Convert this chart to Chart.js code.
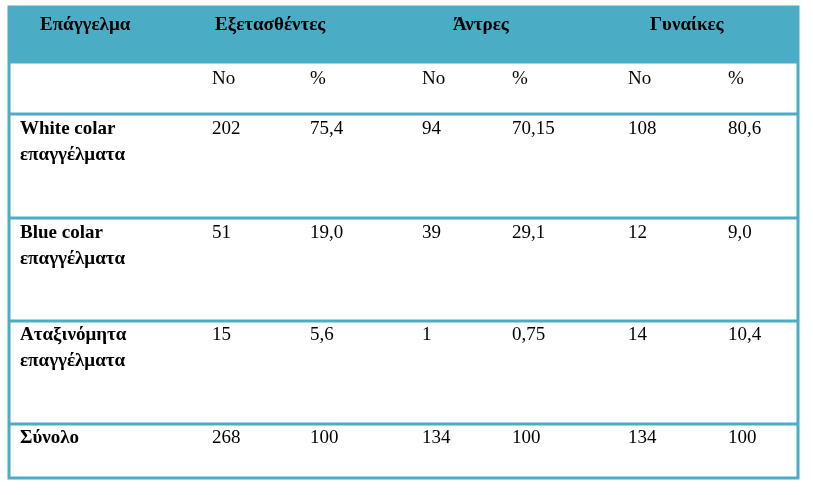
<!DOCTYPE html>
<html><head><meta charset="utf-8">
<script src="https://cdn.jsdelivr.net/npm/chart.js@4"></script>
<style>html,body{margin:0;padding:0;background:#fff}#w{width:813px;height:495px}</style>
</head><body><div id="w"><canvas id="c"></canvas></div>
<script>
const groups = ["Εξετασθέντες", "Άντρες", "Γυναίκες"];
const firstHeader = "Επάγγελμα";
const subHeaders = ["No", "%", "No", "%", "No", "%"];
const categories = [["White colar", "επαγγέλματα"], ["Blue colar", "επαγγέλματα"], ["Αταξινόμητα", "επαγγέλματα"], ["Σύνολο"]];
const rowValues = [
  ["202", "75,4", "94", "70,15", "108", "80,6"],
  ["51", "19,0", "39", "29,1", "12", "9,0"],
  ["15", "5,6", "1", "0,75", "14", "10,4"],
  ["268", "100", "134", "100", "134", "100"]
];

// layout (pixel units of the hidden linear scales)
const L = {left: 9, right: 798, top: 7, bottom: 478,
  hLines: [62, 114, 218, 321, 424],
  colX: [212, 310, 422, 512, 628, 728], groupX: [215, 453, 650], firstX: 40, labelX: 20,
  headY: 25, subY: 79, rowY: [129, 233, 335, 438], lineGap: 26};
const teal = "#4BACC6";
const FAM = "'Liberation Serif', 'Times New Roman', 'DejaVu Serif', serif";

const tablePlugin = {
  id: "table",
  afterDraw(chart) {
    const ctx = chart.ctx, sx = chart.scales.x, sy = chart.scales.y;
    const X = v => sx.getPixelForValue(v), Y = v => sy.getPixelForValue(v);
    ctx.save();
    ctx.fillStyle = teal;
    ctx.fillRect(X(L.left), Y(L.top), X(L.right) - X(L.left), Y(L.hLines[0]) - Y(L.top));
    ctx.strokeStyle = teal; ctx.lineWidth = 3;
    ctx.strokeRect(X(L.left), Y(L.top), X(L.right) - X(L.left), Y(L.bottom) - Y(L.top));
    L.hLines.forEach(h => { ctx.beginPath(); ctx.moveTo(X(L.left), Y(h)); ctx.lineTo(X(L.right), Y(h)); ctx.stroke(); });
    ctx.fillStyle = "#000"; ctx.textBaseline = "middle"; ctx.textAlign = "left";
    ctx.font = "bold 19px " + FAM;
    ctx.fillText(firstHeader, X(L.firstX), Y(L.headY));
    groups.forEach((g, i) => ctx.fillText(g, X(L.groupX[i]), Y(L.headY)));
    ctx.font = "19px " + FAM;
    subHeaders.forEach((s, i) => ctx.fillText(s, X(L.colX[i]), Y(L.subY)));
    categories.forEach((cat, r) => {
      ctx.font = "bold 19px " + FAM;
      cat.forEach((line, k) => ctx.fillText(line, X(L.labelX), Y(L.rowY[r] + k * L.lineGap)));
      ctx.font = "19px " + FAM;
      rowValues[r].forEach((v, i) => ctx.fillText(v, X(L.colX[i]), Y(L.rowY[r])));
    });
    ctx.restore();
  }
};

function make() {
  new Chart(document.getElementById("c"), {
    type: "scatter",
    data: {datasets: [{data: []}]},
    options: {
      responsive: true, maintainAspectRatio: false, animation: false,
      layout: {padding: 0},
      plugins: {legend: {display: false}, tooltip: {enabled: false}},
      scales: {
        x: {type: "linear", min: 0, max: 813, display: false},
        y: {type: "linear", min: 0, max: 495, reverse: true, display: false}
      }
    },
    plugins: [tablePlugin]
  });
}
Promise.all([
  document.fonts.load("19px 'Liberation Serif'", "Επάγγελμα"),
  document.fonts.load("bold 19px 'Liberation Serif'", "Επάγγελμα")
]).then(make, make);
</script></body></html>
